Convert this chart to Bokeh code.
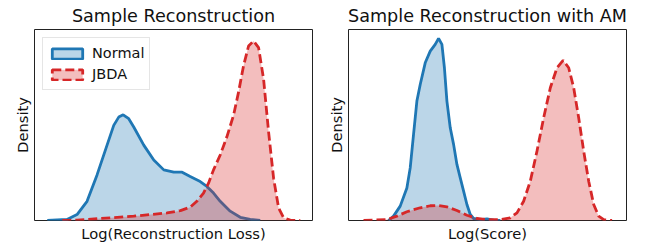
from bokeh.plotting import figure
from bokeh.layouts import row
from bokeh.models import Range1d, FixedTicker, Legend, LegendItem
from bokeh.embed import file_html
from bokeh.resources import INLINE

# ---- Left panel: Sample Reconstruction (x: log reconstruction loss, arbitrary units) ----
rec_normal_x = [4.6, 11.7, 15.3, 18.9, 22.5, 26.1, 28.5, 30.3, 31.9, 33.9, 35.7, 39.3, 42.9,
                46.5, 50.1, 53.1, 56.0, 59.6, 62.0, 64.4, 66.8, 70.4, 74.0, 77.6, 81.2]
rec_normal_y = [0.0, 0.006, 0.033, 0.107, 0.254, 0.420, 0.530, 0.576, 0.589, 0.567, 0.521, 0.420, 0.337,
                0.282, 0.269, 0.269, 0.245, 0.217, 0.190, 0.153, 0.107, 0.052, 0.018, 0.006, 0.0]
rec_jbda_x = [10.0, 15.3, 23.7, 35.7, 41.7, 47.7, 52.5, 56.0, 58.4, 60.8, 62.6, 64.4, 66.8, 69.2,
              71.6, 73.4, 75.2, 77.0, 78.8, 80.6, 82.4, 84.2, 86.0, 87.8, 89.6, 92.0, 95.6]
rec_jbda_y = [0.0, 0.002, 0.011, 0.024, 0.033, 0.042, 0.055, 0.074, 0.107, 0.153, 0.208, 0.282, 0.365, 0.466,
              0.586, 0.715, 0.862, 0.972, 1.0, 0.963, 0.788, 0.494, 0.236, 0.070, 0.015, 0.002, 0.0]

# ---- Right panel: Sample Reconstruction with AM (x: log score, arbitrary units) ----
am_normal_x = [14.4, 16.2, 18.6, 21.0, 22.2, 23.4, 24.6, 25.8, 27.6, 29.4, 31.2, 32.4, 33.6, 34.5,
               35.4, 36.6, 37.8, 39.0, 40.2, 41.4, 42.6, 43.8, 45.0, 47.4, 49.8, 52.2, 54.6]
am_normal_y = [0.0, 0.024, 0.079, 0.179, 0.289, 0.473, 0.656, 0.747, 0.866, 0.930, 0.967, 1.0, 0.967, 0.839,
               0.656, 0.509, 0.418, 0.308, 0.234, 0.161, 0.088, 0.033, 0.011, 0.005, 0.009, 0.002, 0.0]
am_jbda_x = [5.4, 13.8, 17.4, 21.0, 25.8, 29.4, 32.4, 35.4, 39.0, 42.6, 46.2, 49.8, 54.6, 58.2, 60.6,
             63.0, 65.4, 67.8, 70.2, 72.6, 75.0, 77.2, 79.2, 81.0, 82.8, 84.6, 86.4, 88.2, 90.0, 91.8, 94.8]
am_jbda_y = [0.0, 0.005, 0.024, 0.048, 0.070, 0.081, 0.082, 0.075, 0.055, 0.029, 0.011, 0.004, 0.005, 0.015, 0.042,
             0.106, 0.216, 0.381, 0.564, 0.729, 0.839, 0.879, 0.839, 0.729, 0.564, 0.381, 0.216, 0.088, 0.024, 0.005, 0.0]

series_labels = ["Normal", "JBDA"]
BLUE = "#1f77b4"
RED = "#d62728"
FONT = "DejaVu Sans"
DASH = "9 4"
NAN = float("nan")


def make_panel(title, xlabel, ymax, nx, ny, jx, jy, border_left, border_right, with_legend):
    p = figure(frame_width=278, frame_height=191, output_backend="svg", toolbar_location=None,
               x_range=Range1d(0, 100), y_range=Range1d(0, ymax),
               min_border_left=border_left, min_border_right=border_right,
               min_border_top=28, min_border_bottom=24)
    p.title.text = title
    p.title.text_font = FONT
    p.title.text_font_size = "17.6px"
    p.title.text_font_style = "normal"
    p.title.align = "center"
    p.title.text_color = "#111111"
    p.title.standoff = 7
    p.grid.visible = False
    p.outline_line_color = "#222222"
    p.outline_line_width = 1
    p.outline_line_alpha = 1
    for ax, lab in ((p.xaxis[0], xlabel), (p.yaxis[0], "Density")):
        ax.ticker = FixedTicker(ticks=[])
        ax.axis_label = lab
        ax.axis_label_text_font = FONT
        ax.axis_label_text_font_size = "14.7px"
        ax.axis_label_text_font_style = "normal"
        ax.axis_label_text_color = "#111111"
        ax.axis_line_color = None
        ax.major_tick_out = 0
        ax.minor_tick_out = 0
        ax.major_label_standoff = 0
        ax.axis_label_standoff = 4

    p.varea(x=nx, y1=[0] * len(ny), y2=ny, fill_color=BLUE, fill_alpha=0.3)
    p.line(x=nx, y=ny, line_color=BLUE, line_width=2.8)
    p.varea(x=jx, y1=[0] * len(jy), y2=jy, fill_color=RED, fill_alpha=0.3)
    p.line(x=jx, y=jy, line_color=RED, line_width=2.8, line_dash=DASH)

    if with_legend:
        # legend-only patches (NaN geometry, nothing drawn in the plot area)
        dn = p.quad(left=[NAN], right=[NAN], top=[NAN], bottom=[NAN], fill_color=BLUE, fill_alpha=0.3,
                    line_color=BLUE, line_width=2.8)
        dj = p.quad(left=[NAN], right=[NAN], top=[NAN], bottom=[NAN], fill_color=RED, fill_alpha=0.3,
                    line_color=RED, line_width=2.8, line_dash=DASH)
        lg = Legend(items=[LegendItem(label=series_labels[0], renderers=[dn]),
                           LegendItem(label=series_labels[1], renderers=[dj])],
                    location="top_left")
        lg.label_text_font = FONT
        lg.label_text_font_size = "14.5px"
        lg.label_text_color = "#111111"
        lg.glyph_width = 38
        lg.glyph_height = 13
        lg.label_height = 20
        lg.label_standoff = 6
        lg.padding = 5
        lg.spacing = 1
        lg.margin = 8
        lg.border_line_color = "#cccccc"
        lg.border_line_width = 1
        lg.background_fill_alpha = 0.8
        p.add_layout(lg)
    return p


p1 = make_panel("Sample Reconstruction", "Log(Reconstruction Loss)", 1.064,
                rec_normal_x, rec_normal_y, rec_jbda_x, rec_jbda_y, 34, 8, True)
p2 = make_panel("Sample Reconstruction with AM", "Log(Score)", 1.049,
                am_normal_x, am_normal_y, am_jbda_x, am_jbda_y, 28, 10, False)

layout = row(p1, p2)
open("out.html", "w").write(file_html(layout, INLINE))
